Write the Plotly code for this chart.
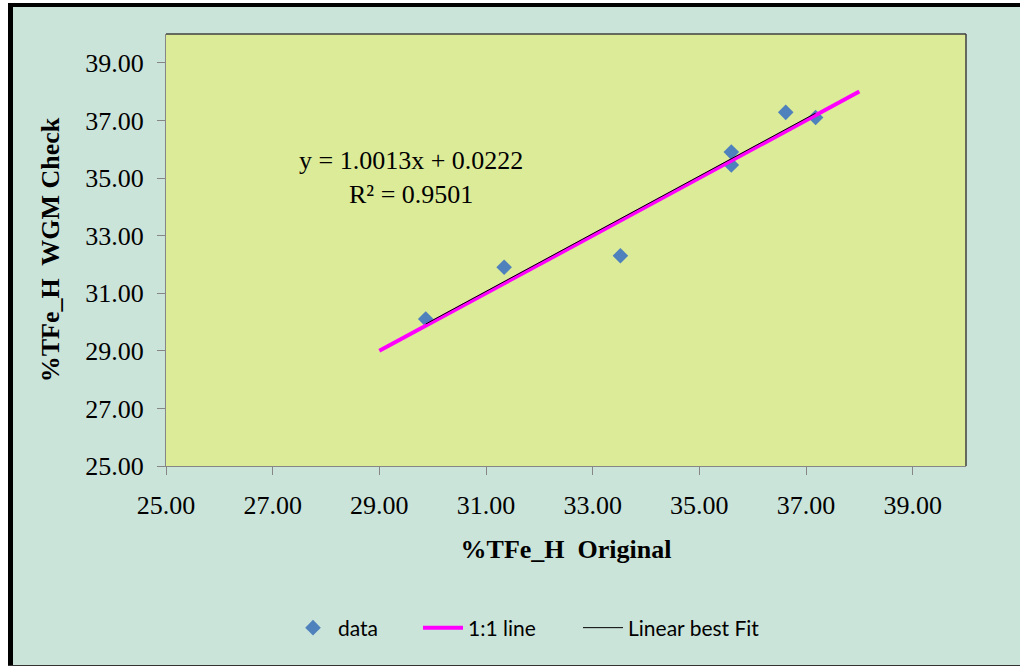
import plotly.graph_objects as go

# Data
orig = [29.87, 31.34, 33.52, 35.60, 35.60, 36.62, 37.18]
check = [30.10, 31.90, 32.30, 35.90, 35.45, 37.28, 37.10]
one_to_one_x = [29.0, 38.0]
fit_slope = 1.0013
fit_intercept = 0.0222
fit_r2 = 0.9501
tick_vals = [25, 27, 29, 31, 33, 35, 37, 39]
tick_text = ["25.00", "27.00", "29.00", "31.00", "33.00", "35.00", "37.00", "39.00"]

W, H = 1020, 666
L, R, T, B = 166, 54, 34, 200
pw, ph = W - L - R, H - T - B


def px(x):
    return (x - L) / pw


def py(y):
    return (H - B - y) / ph


fit_x = [min(orig), max(orig)]
fit_y = [fit_slope * v + fit_intercept for v in fit_x]

fig = go.Figure()
fig.add_trace(go.Scatter(
    x=orig, y=check, mode="markers", name="data", legendwidth=75,
    marker=dict(symbol="diamond", size=12, color="#4F81BD"),
))
fig.add_trace(go.Scatter(
    x=one_to_one_x, y=one_to_one_x, mode="lines", name="1:1 line", legendwidth=105,
    line=dict(color="#FF00FF", width=4),
))
fig.add_trace(go.Scatter(
    x=fit_x, y=fit_y, mode="lines", name="Linear best Fit",
    line=dict(color="#000000", width=1),
))

serif = "Liberation Serif, Times New Roman, serif"
axis_common = dict(
    range=[25, 40], tickmode="array", tickvals=tick_vals, ticktext=tick_text,
    showgrid=False, zeroline=False, showline=True, linecolor="#868686", linewidth=1,
    ticks="outside", ticklen=8, tickcolor="#868686", tickwidth=1,
    tickfont=dict(family=serif, size=26, color="#000000"),
)

fig.update_xaxes(**axis_common, ticklabelstandoff=8,
                 title=dict(text="<b>%TFe_H  Original</b>", standoff=20,
                            font=dict(family=serif, size=26, color="#000000")))
fig.update_yaxes(**axis_common, ticklabelstandoff=8,
                 title=dict(text="<b>%TFe_H  WGM Check</b>", standoff=18,
                            font=dict(family=serif, size=26, color="#000000")))

shapes = [
    # plot area dark border (top & right)
    dict(type="line", xref="paper", yref="paper", x0=0, x1=1, y0=1, y1=1,
         line=dict(color="#404040", width=1.5)),
    dict(type="line", xref="paper", yref="paper", x0=1, x1=1, y0=0, y1=1,
         line=dict(color="#404040", width=1.5)),
    # outer white strips
    dict(type="rect", xref="paper", yref="paper", x0=px(0), x1=px(8), y0=py(H), y1=py(0),
         fillcolor="white", line=dict(width=0)),
    dict(type="rect", xref="paper", yref="paper", x0=px(0), x1=px(W), y0=py(3), y1=py(0),
         fillcolor="white", line=dict(width=0)),
    # black frame
    dict(type="rect", xref="paper", yref="paper", x0=px(8), x1=px(13), y0=py(H), y1=py(3),
         fillcolor="black", line=dict(width=0)),
    dict(type="rect", xref="paper", yref="paper", x0=px(8), x1=px(W), y0=py(7), y1=py(3),
         fillcolor="black", line=dict(width=0)),
    dict(type="rect", xref="paper", yref="paper", x0=px(8), x1=px(W), y0=py(H), y1=py(665),
         fillcolor="#333333", line=dict(width=0)),
]

fig.add_annotation(
    x=29.6, y=35.03, xref="x", yref="y",
    text=f"y = {fit_slope:.4f}x + {fit_intercept:.4f}<br>R² = {fit_r2:.4f}",
    showarrow=False, align="center",
    font=dict(family=serif, size=26, color="#000000"),
)

fig.update_layout(
    width=W, height=H,
    margin=dict(l=L, r=R, t=T, b=B, autoexpand=False),
    paper_bgcolor="#CBE4DA", plot_bgcolor="#DCEB97",
    shapes=shapes,
    showlegend=True,
    legend=dict(orientation="h", x=px(288), xanchor="left", y=py(628), yanchor="middle",
                font=dict(family="Lato, Open Sans, sans-serif", size=21, color="#000000"),
                bgcolor="rgba(0,0,0,0)", itemwidth=40),
)

fig.write_html("out.html", config={"displayModeBar": False},
               post_script="document.body.style.margin='0';document.body.style.overflow='hidden';")
